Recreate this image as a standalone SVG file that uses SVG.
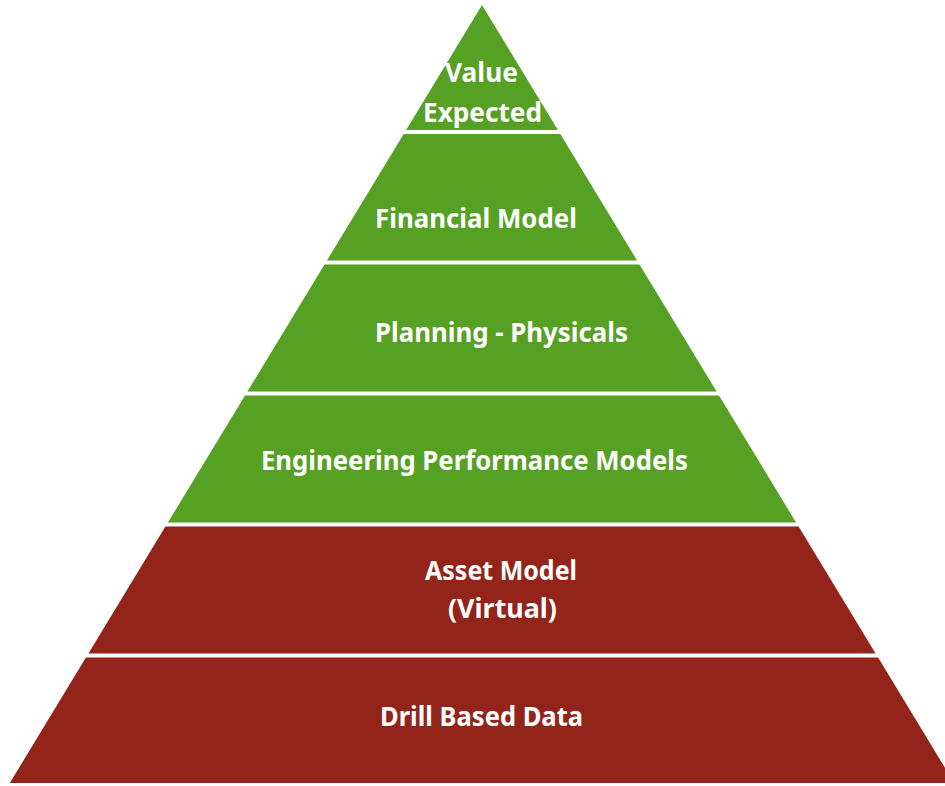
<svg xmlns="http://www.w3.org/2000/svg" width="945" height="786" viewBox="0 0 945 786">
  <style>
    .green { fill: #56A023; }
    .red { fill: #93241A; }
    .label { fill: #FFFFFF; font-family: "Noto Sans", "Open Sans", "DejaVu Sans", sans-serif; font-weight: 700; font-size: 27px; text-anchor: middle; }
  </style>
  <rect width="945" height="786" fill="#FFFFFF"/>
  <g id="tier-value">
    <polygon class="green" points="482,5 557.9,130 406.1,130"/>
    <text class="label" x="481.5" y="82" textLength="73" lengthAdjust="spacingAndGlyphs">Value</text>
    <text class="label" x="482.5" y="122" textLength="119" lengthAdjust="spacingAndGlyphs">Expected</text>
  </g>
  <g id="tier-financial">
    <polygon class="green" points="403.7,134 560.3,134 637.1,260.5 326.9,260.5"/>
    <text class="label" x="476" y="228" textLength="202" lengthAdjust="spacingAndGlyphs">Financial Model</text>
  </g>
  <g id="tier-planning">
    <polygon class="green" points="324.5,264.5 639.5,264.5 716.6,391.5 247.4,391.5"/>
    <text class="label" x="501.5" y="342" textLength="253" lengthAdjust="spacingAndGlyphs">Planning - Physicals</text>
  </g>
  <g id="tier-engineering">
    <polygon class="green" points="245,395.5 719,395.5 796.1,522.5 167.9,522.5"/>
    <text class="label" x="474.4" y="470" textLength="427" lengthAdjust="spacingAndGlyphs">Engineering Performance Models</text>
  </g>
  <g id="tier-asset">
    <polygon class="red" points="165.4,526.5 798.6,526.5 875.6,653.5 88.4,653.5"/>
    <text class="label" x="501" y="580" textLength="152" lengthAdjust="spacingAndGlyphs">Asset Model</text>
    <text class="label" x="502.5" y="618" textLength="109" lengthAdjust="spacingAndGlyphs">(Virtual)</text>
  </g>
  <g id="tier-drill">
    <polygon class="red" points="85.9,657.5 878.1,657.5 954.2,783 9.8,783"/>
    <text class="label" x="481.5" y="726" textLength="203" lengthAdjust="spacingAndGlyphs">Drill Based Data</text>
  </g>
</svg>
